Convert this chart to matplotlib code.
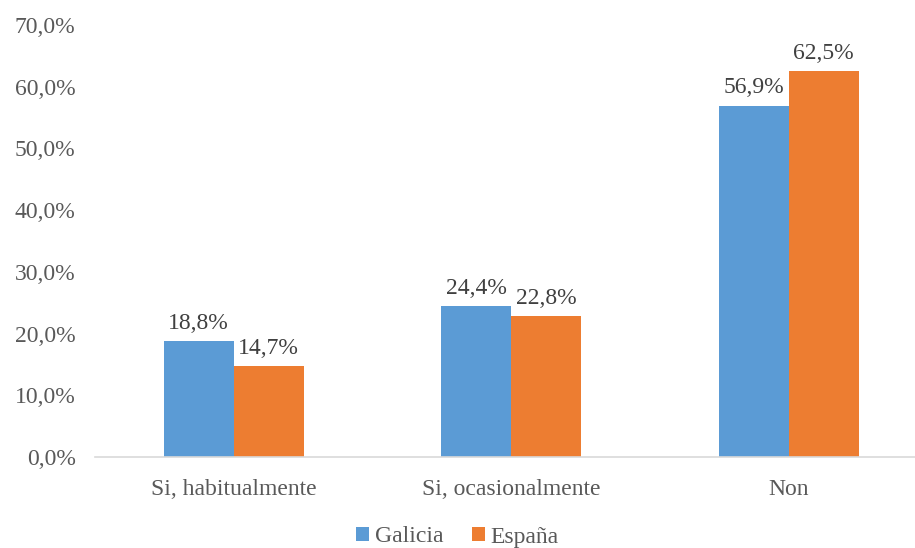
import numpy as np
import matplotlib.pyplot as plt
from matplotlib.ticker import FuncFormatter

categories = ["Si, habitualmente", "Si, ocasionalmente", "Non"]
galicia = [18.8, 24.4, 56.9]
espana = [14.7, 22.8, 62.5]
series_names = ["Galicia", "España"]

blue = "#5b9bd5"
orange = "#ed7d31"
txt = "#595959"

plt.rcParams['font.family'] = ['Liberation Serif', 'DejaVu Serif']

fig = plt.figure(figsize=(9.15, 5.48), dpi=100)
ax = fig.add_axes([95 / 915, 1 - 457 / 548, 832.5 / 915, 432 / 548])

x = np.arange(len(categories))
w = 0.252
b1 = ax.bar(x - w / 2, galicia, w, color=blue, label=series_names[0])
b2 = ax.bar(x + w / 2, espana, w, color=orange, label=series_names[1])

def pct(v, pos=None):
    return f"{v:.1f}%".replace(".", ",")

for bars in (b1, b2):
    for r in bars:
        h = r.get_height()
        ax.text(r.get_x() + r.get_width() / 2, h + 1.2, pct(h),
                ha="center", va="bottom", fontsize=17, color="#404040")

ax.set_xlim(-0.5, 2.5)
ax.set_ylim(0, 70)
ax.set_yticks(np.arange(0, 71, 10))
ax.yaxis.set_major_formatter(FuncFormatter(pct))
ax.set_xticks(x)
ax.set_xticklabels(categories)
ax.tick_params(axis="both", length=0, labelsize=17, colors=txt)
ax.tick_params(axis="y", pad=14)
ax.tick_params(axis="x", pad=16)
for s in ("top", "right", "left"):
    ax.spines[s].set_visible(False)
ax.spines["bottom"].set_color("#d9d9d9")
ax.spines["bottom"].set_linewidth(1.2)

fig.legend(loc="center", bbox_to_anchor=(0.5, 1 - 537 / 548), ncol=2, frameon=False,
           fontsize=17, labelcolor=txt, handlelength=0.55, handleheight=0.55,
           handletextpad=0.25, columnspacing=1.2)

fig.savefig("out.png", dpi=100)
